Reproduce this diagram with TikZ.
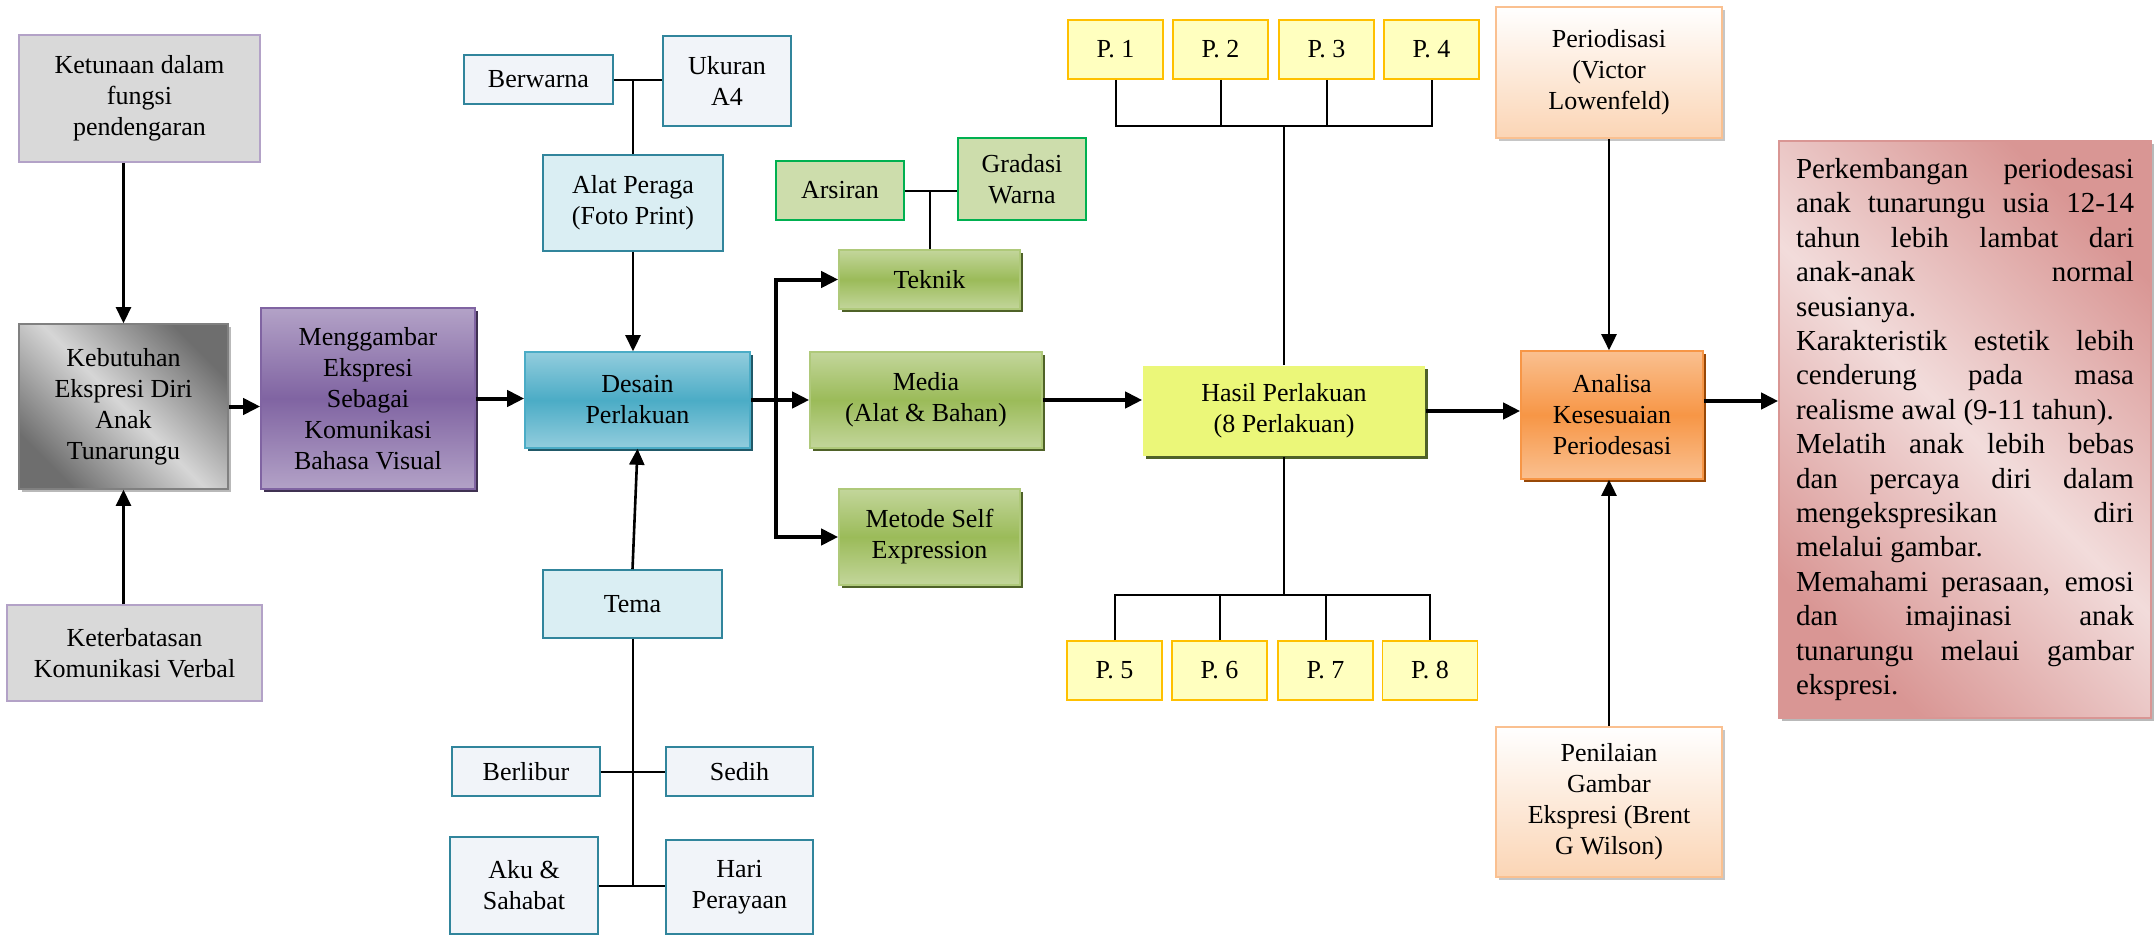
\documentclass[tikz,border=0pt]{standalone}
\usepackage{fontspec}
\setmainfont{Liberation Serif}
\usetikzlibrary{calc,shadows,arrows.meta}

%colours
\definecolor{greyfill}{HTML}{D9D9D9}
\definecolor{lilac}{HTML}{B3A2C7}
\definecolor{kebdark}{HTML}{6E6E6E}
\definecolor{keblight}{HTML}{D6D6D6}
\definecolor{plum}{HTML}{8064A2}
\definecolor{plumdark}{HTML}{3F3151}
\definecolor{aqualight}{HTML}{93CDDD}
\definecolor{aqua}{HTML}{4BACC6}
\definecolor{aquadark}{HTML}{215968}
\definecolor{tealfill}{HTML}{DAEEF3}
\definecolor{paleblue}{HTML}{F1F4F9}
\definecolor{tealline}{HTML}{31859C}
\definecolor{olivelight}{HTML}{C3D69B}
\definecolor{olive}{HTML}{9BBB59}
\definecolor{olivedark}{HTML}{4F6228}
\definecolor{sage}{HTML}{CDDDAC}
\definecolor{leaf}{HTML}{00B050}
\definecolor{lemon}{HTML}{FFFFBF}
\definecolor{gold}{HTML}{FFC000}
\definecolor{lime}{HTML}{EBF779}
\definecolor{peach}{HTML}{FAC090}
\definecolor{peachpale}{HTML}{FBD5B5}
\definecolor{tangerine}{HTML}{F79646}
\definecolor{rust}{HTML}{984807}
\definecolor{rose}{HTML}{D99694}
\definecolor{roselight}{HTML}{F2DCDB}

\newcommand{\justline}[1]{\makebox[169pt][s]{#1}}

\tikzset{
	wh/.style 2 args={minimum width=#1*0.5pt,minimum height=#2*0.5pt},
	box/.style={rectangle,draw,align=center,inner sep=2pt,line width=0.8pt,font=\fontsize{13}{15.5}\selectfont},
	shadowed/.style={drop shadow={fill=#1,opacity=1,shadow xshift=1.6pt,shadow yshift=-1.6pt}},
	greybox/.style={box,fill=greyfill,draw=lilac},
	needbox/.style={box,draw=gray,left color=kebdark,right color=kebdark,middle color=keblight,shading angle=-45,shadowed=gray!55},
	purplebox/.style={box,draw=plum,top color=lilac,bottom color=lilac,middle color=plum,shadowed=plumdark},
	bluebox/.style={box,draw=aqua,top color=aqualight,bottom color=aqualight,middle color=aqua,shadowed=aquadark},
	tealbox/.style={box,draw=tealline,fill=tealfill},
	palebox/.style={box,draw=tealline,fill=paleblue},
	greenbox/.style={box,draw=olive!80!white,top color=olivelight,bottom color=olivelight,middle color=olive,shadowed=olivedark},
	sagebox/.style={box,draw=leaf,fill=sage},
	pbox/.style={box,draw=gold,fill=lemon,wh={95}{59}},
	hasilbox/.style={box,draw=none,fill=lime,shadowed=olivedark},
	peachbox/.style={box,draw=peach,top color=white,bottom color=peachpale,shadowed=gray!45},
	orangebox/.style={box,draw=tangerine,top color=peach,bottom color=peach,middle color=tangerine,shadowed=rust},
	notebox/.style={box,draw=rose,left color=rose,right color=rose,middle color=roselight,shading angle=-45,shadowed=gray!55,align=left,font=\fontsize{14.5}{17.2}\selectfont},
	fat/.style={line width=2pt,line join=miter,-{Triangle[length=8.5pt,width=8pt]}},
	arr/.style={line width=1.3pt,-{Triangle[length=8pt,width=7.5pt]}},
	link/.style={line width=1pt},
}

\begin{document}
\begin{tikzpicture}[x=0.5pt,y=-0.5pt]
	\fill[white] (0,0) rectangle (2154,937);
	\useasboundingbox (0,0) rectangle (2154,937);

	%left column
	\node[greybox,wh={241}{127}] (ketunaan) at (139.5,98.5) {Ketunaan dalam\\fungsi\\pendengaran};
	\node[needbox,wh={209}{165}] (kebutuhan) at (123.5,406.5) {Kebutuhan\\Ekspresi Diri\\Anak\\Tunarungu};
	\node[greybox,wh={255}{96}] (keterbatasan) at (134.5,653) {Keterbatasan\\Komunikasi Verbal};
	\node[purplebox,wh={214}{181}] (menggambar) at (368,398.5) {Menggambar\\Ekspresi\\Sebagai\\Komunikasi\\Bahasa Visual};

	%desain column
	\node[palebox,wh={149}{49}] (berwarna) at (538.5,79.5) {Berwarna};
	\node[palebox,wh={128}{90}] (ukuran) at (727,81) {Ukuran\\A4};
	\node[tealbox,wh={180}{96}] (alat) at (633,203) {Alat Peraga\\(Foto Print)};
	\node[bluebox,wh={225}{96}] (desain) at (637.5,400) {Desain\\Perlakuan};
	\node[tealbox,wh={179}{68}] (tema) at (632.5,604) {Tema};
	\node[palebox,wh={148}{49}] (berlibur) at (526,771.5) {Berlibur};
	\node[palebox,wh={147}{49}] (sedih) at (739.5,771.5) {Sedih};
	\node[palebox,wh={148}{97}] (aku) at (524,885.5) {Aku \&\\Sahabat};
	\node[palebox,wh={147}{94}] (hari) at (739.5,887) {Hari\\Perayaan};

	%green column
	\node[sagebox,wh={128}{59}] (arsiran) at (840,190.5) {Arsiran};
	\node[sagebox,wh={128}{82}] (gradasi) at (1022,179) {Gradasi\\Warna};
	\node[greenbox,wh={181}{59}] (teknik) at (929.5,279.5) {Teknik};
	\node[greenbox,wh={232}{96}] (media) at (926,400) {Media\\(Alat \& Bahan)};
	\node[greenbox,wh={181}{96}] (metode) at (929.5,537) {Metode Self\\Expression};

	%hasil and the eight treatments
	\node[pbox] (p1) at (1115.5,49.5) {P. 1};
	\node[pbox] (p2) at (1220.5,49.5) {P. 2};
	\node[pbox] (p3) at (1326.5,49.5) {P. 3};
	\node[pbox] (p4) at (1431.5,49.5) {P. 4};
	\node[hasilbox,wh={282}{90}] (hasil) at (1284,411) {Hasil Perlakuan\\(8 Perlakuan)};
	\node[pbox] (p5) at (1114.5,670.5) {P. 5};
	\node[pbox] (p6) at (1219.5,670.5) {P. 6};
	\node[pbox] (p7) at (1325.5,670.5) {P. 7};
	\node[pbox] (p8) at (1430,670.5) {P. 8};

	%analysis column
	\node[peachbox,wh={226}{131}] (periodisasi) at (1609,72.5) {Periodisasi\\(Victor\\Lowenfeld)};
	\node[orangebox,wh={182}{128}] (analisa) at (1612,415) {Analisa\\Kesesuaian\\Periodesasi};
	\node[peachbox,wh={226}{150}] (penilaian) at (1609,802) {Penilaian\\Gambar\\Ekspresi (Brent\\G Wilson)};

	%conclusion
	\node[notebox,wh={372}{577}] (catatan) at (1965,429.5) {%
		\justline{Perkembangan periodesasi}\\
		\justline{anak tunarungu usia 12-14}\\
		\justline{tahun lebih lambat dari}\\
		\justline{anak-anak normal}\\
		seusianya.\\
		\justline{Karakteristik estetik lebih}\\
		\justline{cenderung pada masa}\\
		realisme awal (9-11 tahun).\\
		\justline{Melatih anak lebih bebas}\\
		\justline{dan percaya diri dalam}\\
		\justline{mengekspresikan diri}\\
		melalui gambar.\\
		\justline{Memahami perasaan, emosi}\\
		\justline{dan imajinasi anak}\\
		\justline{tunarungu melaui gambar}\\
		ekspresi.};

	%junction points
	\coordinate (split) at (776,400);
	\coordinate (ptop) at (1278,126);
	\coordinate (pbot) at (1279,595);

	%main flow
	\draw[arr] (ketunaan.south -| kebutuhan.north) -- (kebutuhan.north);
	\draw[arr] (keterbatasan.north -| kebutuhan.south) -- (kebutuhan.south);
	\draw[fat] (kebutuhan.east) -- (kebutuhan.east -| menggambar.west);
	\draw[fat] (menggambar.east) -- (menggambar.east -| desain.west);
	\draw[fat] (desain.east) -- (media.west);
	\draw[fat] (split) |- (teknik.west);
	\draw[fat] (split) |- (metode.west);
	\draw[fat] (media.east) -- (media.east -| hasil.west);
	\draw[fat] (hasil.east) -- (hasil.east -| analisa.west);
	\draw[fat] ([yshift=7pt]analisa.east) -- ([yshift=7pt]analisa.east -| catatan.west);

	%inputs of desain
	\draw[arr] (alat.south) -- (alat.south |- desain.north);
	\draw[arr] (tema.north) -- (desain.south);
	\draw[link] (berwarna.east) -- (ukuran.west |- berwarna.east);
	\draw[link] (alat.north) -- (alat.north |- berwarna.east);
	\draw[link] (tema.south) -- (tema.south |- aku.east);
	\draw[link] (berlibur.east) -- (sedih.west |- berlibur.east);
	\draw[link] (aku.east) -- (hari.west |- aku.east);
	\draw[link] (arsiran.east) -- (gradasi.west |- arsiran.east);
	\draw[link] (teknik.north) -- (teknik.north |- arsiran.east);

	%treatment tree
	\draw[link] (p1.south) -- (p1.south |- ptop) -- (p4.south |- ptop) -- (p4.south);
	\draw[link] (p2.south) -- (p2.south |- ptop);
	\draw[link] (p3.south) -- (p3.south |- ptop);
	\draw[link] (hasil.north) -- (hasil.north |- ptop);
	\draw[link] (p5.north) -- (p5.north |- pbot) -- (p8.north |- pbot) -- (p8.north);
	\draw[link] (p6.north) -- (p6.north |- pbot);
	\draw[link] (p7.north) -- (p7.north |- pbot);
	\draw[link] (hasil.south) -- (hasil.south |- pbot);

	%references of analisa
	\draw[arr] (periodisasi.south) -- (periodisasi.south |- analisa.north);
	\draw[arr] (penilaian.north) -- (penilaian.north |- analisa.south);
\end{tikzpicture}
\end{document}
